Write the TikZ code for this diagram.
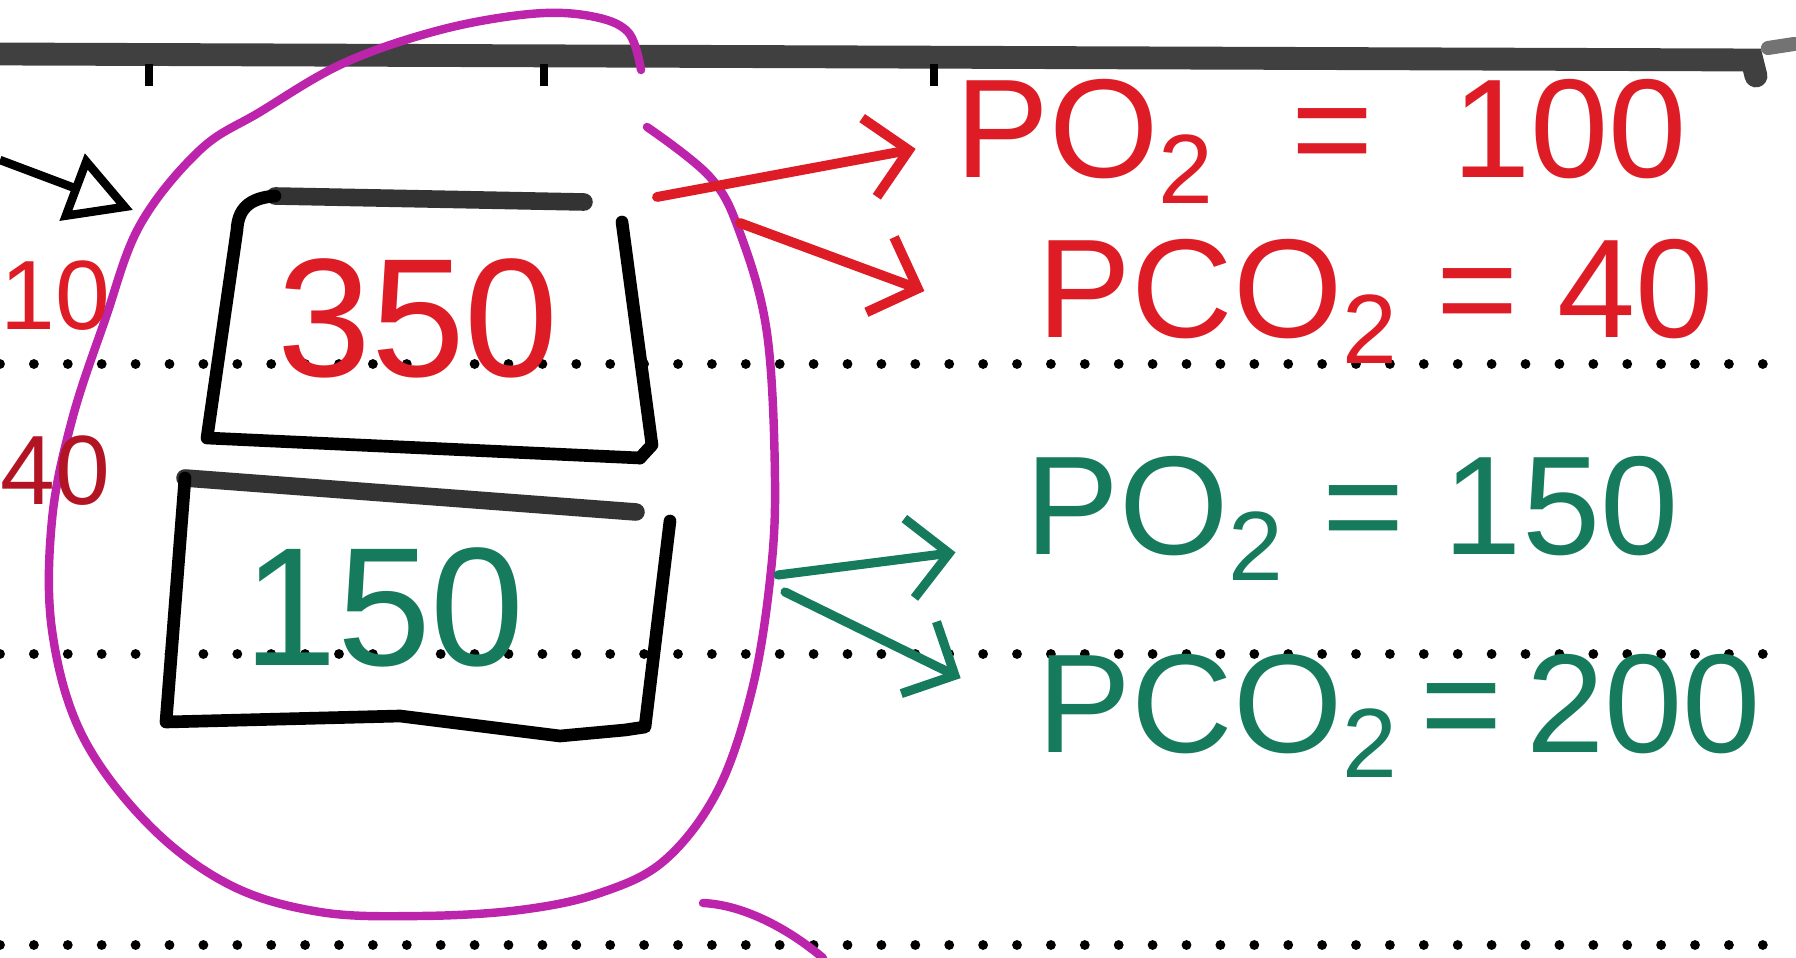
\documentclass[tikz,border=0pt]{standalone}
\usepackage{fontspec}
\setmainfont{Liberation Sans}
\usetikzlibrary{arrows.meta,positioning}
\definecolor{gxred}{RGB}{222,28,38}
\definecolor{gxdarkred}{RGB}{178,20,35}
\definecolor{gxgreen}{RGB}{22,122,92}
\definecolor{gxmagenta}{RGB}{188,36,172}
\newcommand{\gxsub}[1]{\raisebox{-0.18em}{\fontsize{28}{28}\selectfont #1}}
\tikzset{
  gxbox/.style={draw=black, line width=3.6pt, line cap=round, line join=round},
  gxlid/.style={draw=black!80, line width=5pt, line cap=round},
  gxdots/.style={draw=black, line width=2.8pt, line cap=round, dash pattern=on 0pt off 9.64pt},
  gxloop/.style={draw=gxmagenta, line width=2.4pt, line cap=round},
  gxredarrow/.style={-{Straight Barb[length=4mm, width=8mm]}, draw=gxred, line width=2.8pt, line cap=round},
  gxgreenarrow/.style={-{Straight Barb[length=4mm, width=8mm]}, draw=gxgreen, line width=2.6pt, line cap=round},
  gxinarrow/.style={-{Triangle[open, length=6.5mm, width=7mm]}, draw=black, line width=2.4pt},
  gxtext/.style={inner sep=0pt, anchor=base west, font=\fontsize{40}{48}\selectfont},
  gxnum/.style={inner sep=0pt, font=\fontsize{48}{56}\selectfont},
  gxside/.style={inner sep=0pt, anchor=base west, font=\fontsize{28}{32}\selectfont},
}
\begin{document}
\begin{tikzpicture}[x=0.01cm, y=-0.01cm]
  \useasboundingbox (0,0) rectangle (1796,958);

  % ruled lines of the page
  \draw[line width=6.5pt, black!75, line cap=round] (0,54) -- (1752,60) -- (1756,76);
  \draw[line width=4pt, black!55, line cap=round] (1768,48) -- (1794,44);
  \foreach \tx in {149,544,934}
    \draw[line width=2pt, black] (\tx,64) -- (\tx,86);
  \foreach \ly in {364,654,945}
    \draw[gxdots] (0,\ly) -- (1796,\ly);

  % the two boxes
  \draw[gxlid] (584,202) -- (275,196);
  \draw[gxbox] (275,196) .. controls (248,198) and (238,210) .. (237,230) -- (207,438) -- (640,458);
  \draw[gxbox] (622,222) -- (652,445) -- (640,458);
  \draw[gxlid] (636,512) -- (185,478);
  \draw[gxbox] (185,478) -- (166,722) -- (400,716) -- (560,736) -- (625,730) -- (645,727) -- (670,521);

  \node[gxnum, text=gxred] (n350) at (418,318) {350};
  \node[gxnum, text=gxgreen] (n150) at (384,607) {150};

  % loop round the boxes
  \draw[gxloop] plot[smooth, tension=0.6] coordinates {
    (641,70) (628,32) (590,16) (530,14) (440,30) (344,63) (260,112) (200,150)
    (140,225) (105,320) (72,420) (52,520) (52,630) (82,735) (149,825) (230,885)
    (320,912) (420,916) (520,910) (600,893) (665,860) (718,790) (752,690)
    (770,580) (775,480) (767,333) (740,233) (710,177) (647,127)};
  \draw[gxloop] (703,903) .. controls (745,905) and (790,930) .. (823,958);

  % values on the right
  \node[gxtext, text=gxred] (po2a) at (955,178) {PO\gxsub{2}\ \ =\ \ 100};
  \node[gxtext, text=gxred] (pco2a) at (1037,338) {PCO\gxsub{2}\ =\ 40};
  \node[gxtext, text=gxgreen] (po2v) at (1025,555) {PO\gxsub{2}\ =\ 150};
  \node[gxtext, text=gxgreen] (pco2v) at (1037,752) {PCO\gxsub{2}\,=\,200};

  % values on the left
  \node[gxside, text=gxred] (v10) at (0,330) {10};
  \node[gxside, text=gxdarkred] (v40) at (0,505) {40};

  \coordinate (ra) at (657,197);
  \coordinate (rb) at (740,223);
  \coordinate (ga) at (778,575);
  \coordinate (gb) at (785,592);
  \draw[gxredarrow, shorten >=4mm] (ra) -- (po2a.west);
  \draw[gxredarrow, shorten >=12mm] (rb) -- ([yshift=-0.31cm]pco2a.west);
  \draw[gxgreenarrow, shorten >=7mm] (ga) -- ([yshift=-0.25cm]po2v.west);
  \draw[gxgreenarrow, shorten >=8.5mm] (gb) -- (pco2v.west);

  \coordinate (inA) at (0,160);
  \coordinate (inB) at (133,210);
  \draw[gxinarrow] (inA) -- (inB);
\end{tikzpicture}
\end{document}
